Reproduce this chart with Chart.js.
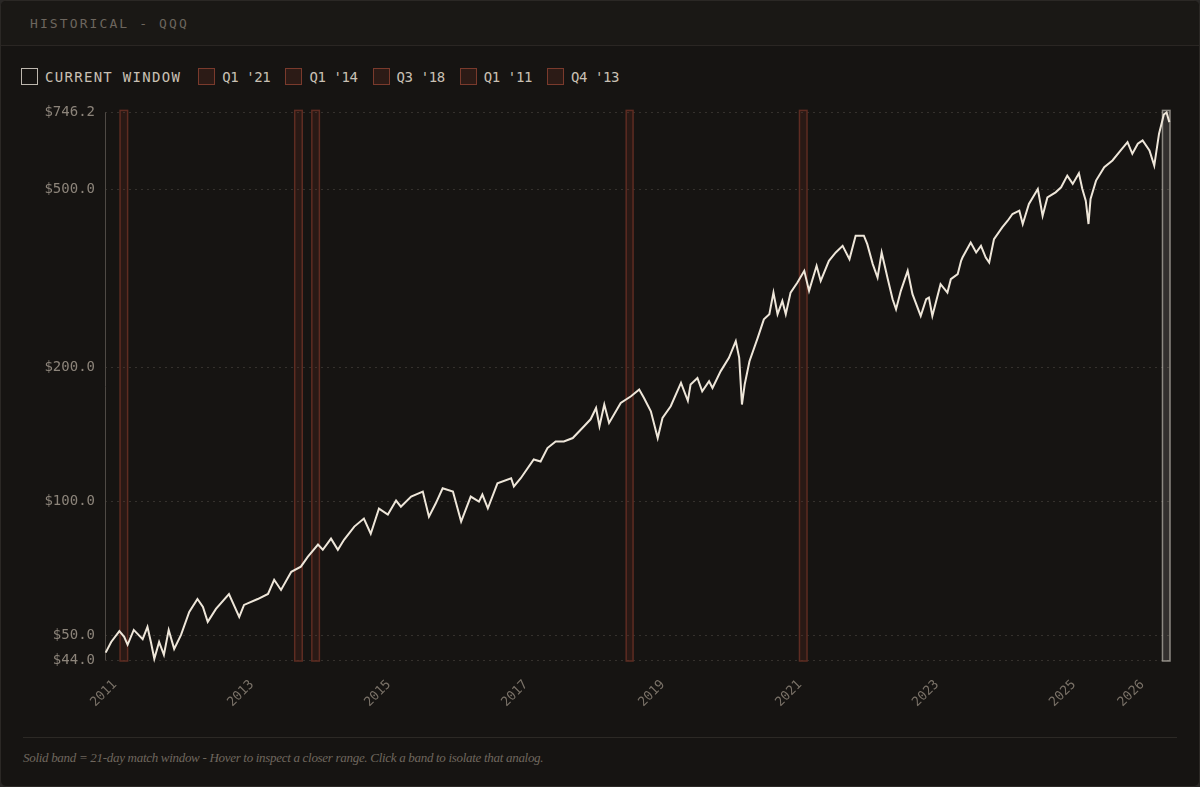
<!DOCTYPE html>
<html>
<head>
<meta charset="utf-8">
<title>Historical - QQQ</title>
<script src="https://cdn.jsdelivr.net/npm/chart.js@4.4.1/dist/chart.umd.min.js"></script>
<style>
    html, body { margin: 0; padding: 0; background: #2a2826; }
    .card {
        position: relative; width: 1198px; height: 785px;
        background: #161412; border: 1px solid #2b2825; border-radius: 6px; overflow: hidden;
    }
    .head { height: 44px; background: #1a1815; border-bottom: 1px solid #2a2623; }
    .head span {
        position: absolute; left: 29px; top: 15px;
        font: 13px 'DejaVu Sans Mono', monospace; letter-spacing: 2.1px; color: #6d665e;
    }
    .legend { position: absolute; left: 20px; top: 67px; display: flex; align-items: center; }
    .legend .item { display: flex; align-items: center; margin-right: 15px; }
    .legend .box { width: 15px; height: 15px; margin-right: 7px; box-sizing: content-box; }
    .legend .txt { font: 14px 'DejaVu Sans Mono', monospace; color: #c9c0b4; }
    .wrap { position: absolute; left: 0; top: 93px; width: 1200px; height: 627px; }
    .rule { position: absolute; left: 22px; right: 22px; top: 736px; height: 1px; background: #2c2925; }
    .foot {
        position: absolute; left: 22px; top: 749px;
        font: italic 13px 'Liberation Serif', serif; letter-spacing: -0.3px; color: #6f675e;
    }
</style>
</head>
<body>
<div class="card">
    <div class="head"><span>HISTORICAL - QQQ</span></div>
    <div class="legend" id="legend"></div>
    <div class="wrap"><canvas id="qqq-chart"></canvas></div>
    <div class="rule"></div>
    <div class="foot">Solid band = 21-day match window - Hover to inspect a closer range. Click a band to isolate that analog.</div>
</div>
<script>
// Price series (decimal year, close in $)
var years = [
    2011.01, 2011.09, 2011.21, 2011.28, 2011.33, 2011.42, 2011.55, 2011.62, 2011.67, 2011.72,
    2011.79, 2011.86, 2011.93, 2012.01, 2012.11, 2012.23, 2012.35, 2012.43, 2012.50, 2012.62,
    2012.81, 2012.96, 2013.03, 2013.23, 2013.38, 2013.47, 2013.57, 2013.72, 2013.86, 2013.96,
    2014.11, 2014.18, 2014.30, 2014.40, 2014.49, 2014.64, 2014.78, 2014.88, 2015.00, 2015.13,
    2015.25, 2015.32, 2015.47, 2015.64, 2015.73, 2015.83, 2015.93, 2016.08, 2016.20, 2016.34,
    2016.46, 2016.51, 2016.59, 2016.73, 2016.93, 2016.97, 2017.07, 2017.26, 2017.36, 2017.46,
    2017.58, 2017.70, 2017.83, 2017.97, 2018.09, 2018.17, 2018.22, 2018.29, 2018.36, 2018.53,
    2018.68, 2018.80, 2018.87, 2018.97, 2019.07, 2019.14, 2019.26, 2019.41, 2019.51, 2019.55,
    2019.65, 2019.72, 2019.82, 2019.87, 2019.99, 2020.11, 2020.21, 2020.26, 2020.30, 2020.34,
    2020.41, 2020.53, 2020.62, 2020.70, 2020.76, 2020.82, 2020.89, 2020.94, 2021.01, 2021.11,
    2021.21, 2021.28, 2021.39, 2021.45, 2021.57, 2021.67, 2021.77, 2021.87, 2021.96, 2022.08,
    2022.13, 2022.21, 2022.28, 2022.34, 2022.43, 2022.50, 2022.55, 2022.62, 2022.72, 2022.79,
    2022.91, 2022.99, 2023.03, 2023.08, 2023.20, 2023.30, 2023.35, 2023.45, 2023.50, 2023.52,
    2023.64, 2023.72, 2023.79, 2023.86, 2023.91, 2023.98, 2024.10, 2024.18, 2024.25, 2024.35,
    2024.40, 2024.49, 2024.62, 2024.69, 2024.76, 2024.88, 2024.96, 2025.05, 2025.13, 2025.22,
    2025.27, 2025.32, 2025.36, 2025.39, 2025.47, 2025.59, 2025.71, 2025.83, 2025.93, 2026.00,
    2026.08, 2026.15, 2026.25, 2026.32, 2026.39, 2026.46, 2026.50, 2026.54
];
var prices = [
    45.7, 48.3, 51.1, 49.6, 47.6, 51.4, 49.0, 52.2, 48.3, 44.3,
    48.3, 45.2, 51.4, 46.6, 50.1, 56.4, 60.3, 57.9, 53.6, 57.3,
    61.9, 55.0, 58.5, 60.3, 61.9, 66.6, 63.2, 69.4, 71.3, 75.0,
    79.9, 77.8, 82.4, 77.8, 81.9, 87.7, 91.4, 84.5, 96.2, 93.3,
    100.3, 97.2, 102.4, 105.1, 92.3, 98.9, 106.9, 105.1, 90.0, 102.4,
    99.8, 103.5, 96.4, 109.7, 112.6, 107.9, 112.6, 124.1, 122.8, 131.6,
    136.2, 136.2, 138.6, 146.0, 152.7, 161.9, 147.3, 164.8, 149.8, 166.2,
    172.0, 178.1, 170.5, 159.2, 138.6, 153.7, 163.4, 184.3, 168.0, 182.8,
    189.1, 176.5, 185.9, 179.6, 195.9, 209.8, 228.8, 209.8, 164.8, 182.8,
    206.2, 232.7, 256.0, 262.8, 294.0, 262.8, 281.6, 262.8, 294.0, 309.6,
    329.0, 296.6, 337.6, 312.3, 346.4, 361.7, 374.4, 349.5, 394.4, 394.4,
    377.7, 340.6, 317.7, 361.7, 315.1, 284.1, 269.7, 296.6, 329.0, 291.5,
    260.5, 284.1, 286.5, 260.5, 307.0, 294.0, 315.1, 323.4, 346.4, 352.4,
    380.9, 361.7, 374.4, 352.4, 343.4, 387.7, 411.7, 426.2, 441.3, 448.9,
    419.0, 464.7, 502.3, 437.4, 480.9, 493.6, 506.6, 538.2, 515.6, 544.7,
    502.3, 472.7, 419.0, 476.9, 524.5, 562.0, 581.9, 612.9, 639.8, 602.5,
    634.5, 645.4, 612.9, 567.0, 668.5, 738.0, 746.2, 709.6
];

// Analog windows (start / end, decimal year)
var bandLabels = ["Q1 '21", "Q1 '14", "Q3 '18", "Q1 '11", "Q4 '13"];
var bandStarts = [2021.14, 2014.02, 2018.61, 2011.22, 2013.77];
var bandEnds = [2021.25, 2014.13, 2018.71, 2011.33, 2013.88];
var currentWindow = [2026.44, 2026.55];

// Axis ticks
var xTickYears = [2011, 2013, 2015, 2017, 2019, 2021, 2023, 2025, 2026];
var yTickValues = [44, 50, 100, 200, 500, 746.2];

var BAND_FILL = 'rgba(110, 46, 32, 0.22)';
var BAND_LINE = '#5e2c22';
var CUR_FILL = 'rgba(205, 200, 190, 0.16)';
var CUR_LINE = 'rgba(200, 195, 186, 0.65)';

// Build the html legend
function buildLegend() {
    var legend = document.getElementById('legend');
    var items = [{ label: 'CURRENT WINDOW', fill: '#161412', line: '#bdb7ae', spacing: '1.3px', gap: '17px' }];
    bandLabels.forEach(function (label) {
        items.push({ label: label, fill: '#2c1b16', line: '#7a3a2c', spacing: '-0.4px', gap: '15px' });
    });
    items.forEach(function (it) {
        var item = document.createElement('div');
        item.className = 'item';
        item.style.marginRight = it.gap;
        var box = document.createElement('div');
        box.className = 'box';
        box.style.background = it.fill;
        box.style.border = '1.5px solid ' + it.line;
        var txt = document.createElement('span');
        txt.className = 'txt';
        txt.style.letterSpacing = it.spacing;
        txt.innerText = it.label;
        item.appendChild(box);
        item.appendChild(txt);
        legend.appendChild(item);
    });
}

function drawBand(c, x1, x2, area, fill, line) {
    c.fillStyle = fill;
    c.fillRect(x1, area.top - 2, x2 - x1, area.bottom - area.top + 3);
    c.strokeStyle = line;
    c.lineWidth = 1.5;
    c.strokeRect(x1, area.top - 2, x2 - x1, area.bottom - area.top + 3);
}

// Draws the match bands and the left axis line behind the price line
var bandPlugin = {
    id: 'bands',
    beforeDatasetsDraw: function (chart) {
        var x = chart.scales.x;
        var area = chart.chartArea;
        var c = chart.ctx;
        c.save();
        bandStarts.forEach(function (s, i) {
            drawBand(c, x.getPixelForValue(s), x.getPixelForValue(bandEnds[i]), area, BAND_FILL, BAND_LINE);
        });
        drawBand(c, x.getPixelForValue(currentWindow[0]), x.getPixelForValue(currentWindow[1]), area, CUR_FILL, CUR_LINE);
        c.strokeStyle = '#4f4a45';
        c.lineWidth = 1;
        c.beginPath();
        c.moveTo(area.left + 0.5, area.top);
        c.lineTo(area.left + 0.5, area.bottom);
        c.stroke();
        c.restore();
    }
};

function displayChart() {
    Chart.defaults.font.family = "'DejaVu Sans Mono', monospace";

    var points = years.map(function (y, i) {
        return { x: y, y: prices[i] };
    });

    new Chart(document.getElementById('qqq-chart').getContext('2d'), {
        type: 'line',
        data: {
            datasets: [{
                label: 'QQQ',
                data: points,
                borderColor: '#eee6d9',
                borderWidth: 2,
                pointRadius: 0,
                tension: 0,
                clip: 4
            }]
        },
        options: {
            responsive: true,
            maintainAspectRatio: false,
            animation: false,
            layout: { padding: { top: 3, right: 31, left: 0, bottom: 0 } },
            plugins: {
                legend: { display: false },
                tooltip: { enabled: false }
            },
            scales: {
                x: {
                    type: 'linear',
                    min: 2011,
                    max: currentWindow[1],
                    afterBuildTicks: function (scale) {
                        scale.ticks = xTickYears.map(function (v) { return { value: v }; });
                    },
                    afterFit: function (scale) { scale.height = 61; },
                    ticks: {
                        autoSkip: false,
                        minRotation: 45,
                        maxRotation: 45,
                        padding: 9,
                        labelOffset: 10,
                        color: '#7a7268',
                        font: { size: 13 },
                        callback: function (v) { return String(v); }
                    },
                    grid: { display: false },
                    border: { display: false }
                },
                y: {
                    type: 'logarithmic',
                    min: 44,
                    max: 746.2,
                    afterBuildTicks: function (scale) {
                        scale.ticks = yTickValues.map(function (v) { return { value: v }; });
                    },
                    afterFit: function (scale) { scale.width = 104; },
                    ticks: {
                        padding: 10,
                        color: '#8c847a',
                        font: { size: 14 },
                        callback: function (v) { return '$' + Number(v).toFixed(1); }
                    },
                    grid: { color: '#35312d', lineWidth: 1, drawTicks: false },
                    border: { display: false, dash: [2, 4] }
                }
            }
        },
        plugins: [bandPlugin]
    });
}

buildLegend();
displayChart();
</script>
</body>
</html>
